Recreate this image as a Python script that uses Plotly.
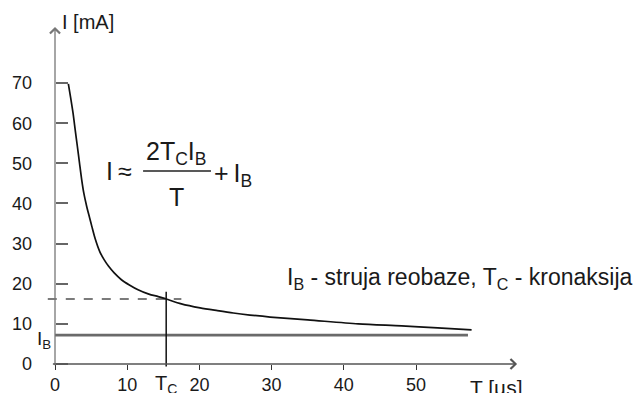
import plotly.graph_objects as go

# ---- data ----
T_curve = [1.85, 2.2, 2.5, 2.8, 3.1, 3.4, 3.7, 4.0, 4.4, 4.8, 5.1, 5.6, 6.2, 6.8, 7.4, 8.2, 9.2,
           10.3, 11.5, 13.0, 14.3, 15.4, 17.5, 20.1, 22.5, 24.7, 27.0, 29.8, 35.0, 42.0, 48.0, 53.0, 57.7]
I_curve = [69.8, 66.0, 62.5, 58.3, 54.2, 50.0, 45.9, 42.5, 39.2, 36.4, 34.3, 31.0, 28.0, 26.0, 24.4, 22.7, 21.0,
           19.7, 18.5, 17.4, 16.8, 16.2, 15.0, 14.0, 13.3, 12.7, 12.2, 11.7, 11.0, 10.0, 9.5, 9.0, 8.5]
IB = 7.2           # rheobase current level
TC = 15.4          # chronaxie
I_AT_TC = 16.2     # current at chronaxie (dashed line)
TC_LINE_TOP = 18.0
T_END = 57.2
x_ticks = [0, 10, 20, 30, 40, 50]
y_ticks = [0, 10, 20, 30, 40, 50, 60, 70]
x_labels = [str(v) for v in x_ticks]
y_labels = [str(v) for v in y_ticks]

FONT = "Liberation Sans, Arial, sans-serif"
TXT = "#1a1a1a"
W, H = 636, 393
X0PX, XSCALE = 55, 7.22
Y0PX, YSCALE = 364, 4.013

fig = go.Figure()

# rheobase line
fig.add_trace(go.Scatter(x=[0, T_END], y=[IB, IB], mode="lines",
                         line=dict(color="#6a6a6a", width=2.8), hoverinfo="skip"))
# dashed horizontal at chronaxie current
fig.add_trace(go.Scatter(x=[-1.0, TC + 2.1], y=[I_AT_TC, I_AT_TC], mode="lines",
                         line=dict(color="#505050", width=1.5, dash="dash"), hoverinfo="skip"))
# vertical chronaxie line
fig.add_trace(go.Scatter(x=[TC, TC], y=[-0.6, TC_LINE_TOP], mode="lines",
                         line=dict(color="#111111", width=1.5), hoverinfo="skip"))
# strength-duration curve
fig.add_trace(go.Scatter(x=T_curve, y=I_curve, mode="lines",
                         line=dict(color="#111111", width=1.7, shape="spline", smoothing=0.8),
                         hoverinfo="skip"))

annotations = []
# axis arrows
annotations.append(dict(x=0, y=84, ax=0, ay=-0.7, xref="x", yref="y", axref="x", ayref="y",
                        text="", showarrow=True, arrowhead=4, arrowsize=1.5, arrowwidth=1.3,
                        arrowcolor="#777777"))
annotations.append(dict(x=64, y=0, ax=-0.5, ay=0, xref="x", yref="y", axref="x", ayref="y",
                        text="", showarrow=True, arrowhead=4, arrowsize=1.5, arrowwidth=1.3,
                        arrowcolor="#555555"))

def txt(x, y, s, size, xa="left", ya="middle"):
    annotations.append(dict(x=x, y=y, xref="x", yref="y", text=s, showarrow=False,
                            xanchor=xa, yanchor=ya,
                            font=dict(family=FONT, size=size, color=TXT)))

txt(0.69, 85.2, "I [mA]", 20)
txt(57.2, -5.8, "T [µs]", 21)
txt(-0.3, 6.0, "I<sub>B</sub>", 19, xa="right")
txt(TC, -5.2, "T<sub>C</sub>", 20, xa="center")
# formula
txt(11.0, 48.2, "I\u2009≈", 25, xa="right")
txt(16.76, 52.6, "2T<sub>C</sub>I<sub>B</sub>", 25, xa="center")
txt(16.76, 41.6, "T", 25, xa="center")
txt(21.75, 47.2, "+\u2009I<sub>B</sub>", 25)
# legend text
txt(31.86, 21.2, "I<sub>B</sub> - struja reobaze, T<sub>C</sub> - kronaksija", 23)

shapes = [dict(type="line", xref="x", yref="y", x0=12.2, x1=21.6, y0=48.1, y1=48.1,
               line=dict(color="#222222", width=1.6))]

fig.update_layout(
    template="none",
    width=W, height=H, margin=dict(l=0, r=0, t=0, b=0, pad=0, autoexpand=False),
    paper_bgcolor="white", plot_bgcolor="white", showlegend=False,
    annotations=annotations, shapes=shapes,
    xaxis=dict(range=[-X0PX / XSCALE, (W - X0PX) / XSCALE], anchor="free", automargin=False,
               position=(H - Y0PX) / H, showgrid=False, zeroline=False, showline=False,
               tickmode="array", tickvals=x_ticks, ticktext=x_labels,
               ticks="outside", ticklen=5, tickwidth=1.3, tickcolor="#333333",
               ticklabelstandoff=-1,
               tickfont=dict(family=FONT, size=18, color=TXT)),
    yaxis=dict(range=[-(H - Y0PX) / YSCALE, Y0PX / YSCALE], anchor="free", automargin=False,
               position=X0PX / W, showgrid=False, zeroline=False, showline=False,
               tickmode="array", tickvals=y_ticks, ticktext=y_labels,
               ticks="inside", ticklen=12, tickwidth=1.5, tickcolor="#666666",
               ticklabelstandoff=23,
               tickfont=dict(family=FONT, size=18, color=TXT)),
)

fig.write_html("out.html")
